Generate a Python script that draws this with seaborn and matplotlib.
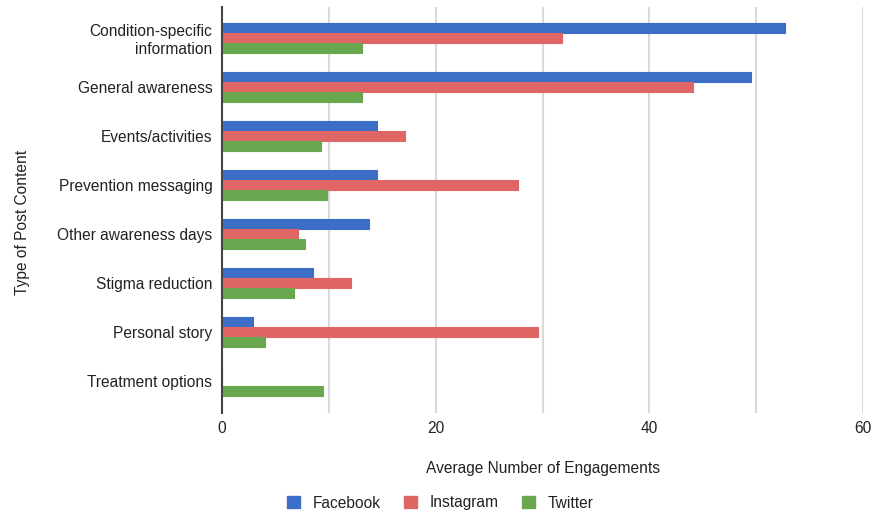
import pandas as pd
import numpy as np
import matplotlib
matplotlib.use("Agg")
import matplotlib.pyplot as plt
import seaborn as sns

categories = ["Condition-specific\ninformation", "General awareness", "Events/activities",
              "Prevention messaging", "Other awareness days", "Stigma reduction",
              "Personal story", "Treatment options"]
platforms = ["Facebook", "Instagram", "Twitter"]
facebook = [52.7, 49.5, 14.5, 14.5, 13.8, 8.5, 2.9, 0]
instagram = [31.8, 44.1, 17.1, 27.7, 7.1, 12.1, 29.6, 0]
twitter = [13.1, 13.1, 9.3, 9.8, 7.8, 6.7, 4.0, 9.5]
colors = ["#3c6ec7", "#e06666", "#6aa84f"]

rows = []
for p, vals in zip(platforms, [facebook, instagram, twitter]):
    for c, v in zip(categories, vals):
        rows.append({"category": c, "platform": p, "value": v})
df = pd.DataFrame(rows)

sns.set_style("white")
plt.rcParams['font.family'] = ['Liberation Sans', 'DejaVu Sans']
fs = 11.2

fig = plt.figure(figsize=(8.75, 5.19), dpi=100)
ax = fig.add_axes([222/875, 1-413/519, (863-222)/875, (413-7)/519])

sns.barplot(data=df, y="category", x="value", hue="platform", order=categories,
            hue_order=platforms, palette=colors, orient="h", width=0.62,
            saturation=1, ax=ax, legend=False)
for bar in ax.patches:
    bar.set_edgecolor(bar.get_facecolor())
    bar.set_linewidth(0.8)
    bar.set_joinstyle("round")

ax.set_xlim(0, 60)
ax.set_ylim(7.65, -0.63)
ax.set_xticks(np.arange(0, 61, 20))
ax.set_xticks(np.arange(0, 61, 10), minor=True)
ax.grid(axis="x", which="both", color="#d9d9d9", linewidth=1.5)
ax.set_axisbelow(True)
for s in ["top", "right", "bottom"]:
    ax.spines[s].set_visible(False)
ax.spines["left"].set_color("#444444")
ax.spines["left"].set_linewidth(1.5)
ax.spines["left"].set_zorder(5)
ax.tick_params(axis="both", which="both", length=0, labelsize=fs, labelcolor="#222222", pad=7)
ax.tick_params(axis="x", pad=6)
for t in ax.get_yticklabels():
    t.set_multialignment("right")
ax.set_xlabel("Average Number of Engagements", fontsize=fs, color="#222222")
ax.set_ylabel("Type of Post Content", fontsize=fs, color="#222222")
ax.xaxis.set_label_coords(0.5, (413-461)/406)
ax.yaxis.set_label_coords((30-222)/641, (413-222)/406)

handles = [plt.Rectangle((0, 0), 1, 1, color=c) for c in colors]
fig.legend(handles, platforms, loc="center", bbox_to_anchor=(0.503, 1-503/519), ncol=3,
           frameon=False, fontsize=fs, handlelength=0.85, handleheight=0.85,
           columnspacing=1.5, handletextpad=0.8, labelcolor="#222222")

fig.savefig("out.png", dpi=100)
